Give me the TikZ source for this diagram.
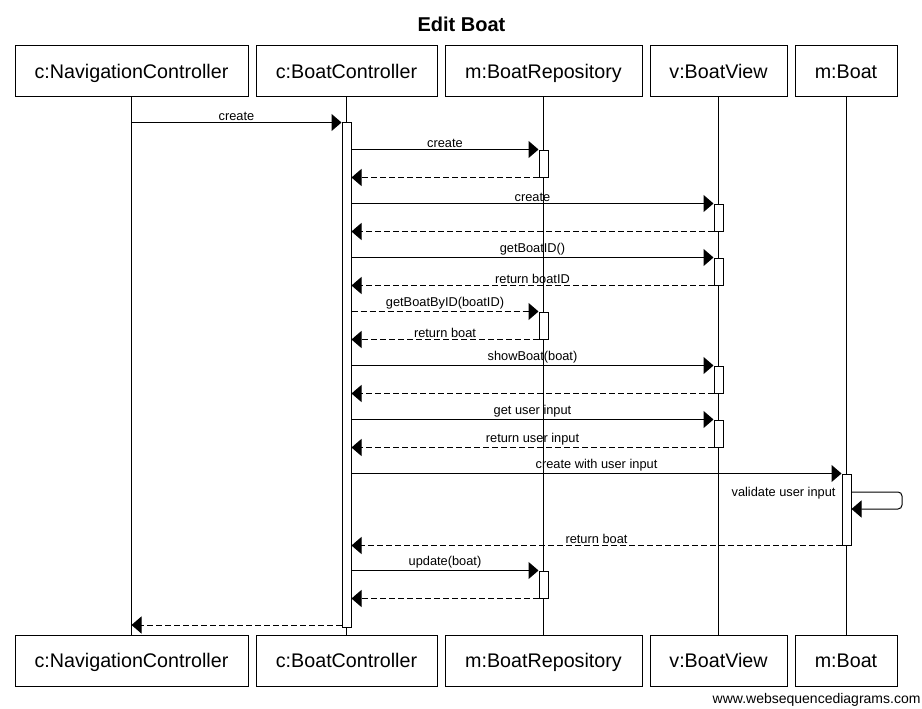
\documentclass[tikz,border=0pt]{standalone}
\usepackage{fontspec}
\setmainfont{Liberation Sans}
\usetikzlibrary{arrows.meta}
\begin{document}
\begin{tikzpicture}[x=1pt,y=-1pt,
  every path/.style={line width=1pt},
  pbox/.style={draw, rectangle, inner sep=0pt, minimum height=51pt,
    text height=13pt, text depth=0pt,
    font=\fontsize{19.7}{22}\selectfont},
  act/.style={draw, fill=white, rectangle, inner sep=0pt, minimum width=9pt},
  msg/.style={-{Triangle[length=10pt,width=17pt]}},
  ret/.style={msg, dash pattern=on 6pt off 3pt},
  lbl/.style={midway, above, inner sep=1.5pt, font=\fontsize{12.8}{14}\selectfont},
  lifeline/.style={draw, line width=1pt}]
\useasboundingbox (0,0) rectangle (922,709);
% title
\node[font=\bfseries\fontsize{20}{24}\selectfont] (title) at (461.5,24) {Edit Boat};
% participants top
\node[pbox, minimum width=233pt] (ncT) at (131.5,71.5) {c:NavigationController};
\node[pbox, minimum width=181pt] (bcT) at (346.5,71.5) {c:BoatController};
\node[pbox, minimum width=197pt] (rpT) at (543.5,71.5) {m:BoatRepository};
\node[pbox, minimum width=137pt] (vwT) at (718.5,71.5) {v:BoatView};
\node[pbox, minimum width=102pt] (btT) at (846,71.5) {m:Boat};
% participants bottom
\node[pbox, minimum width=233pt] (ncB) at (131.5,661) {c:NavigationController};
\node[pbox, minimum width=181pt] (bcB) at (346.5,661) {c:BoatController};
\node[pbox, minimum width=197pt] (rpB) at (543.5,661) {m:BoatRepository};
\node[pbox, minimum width=137pt] (vwB) at (718.5,661) {v:BoatView};
\node[pbox, minimum width=102pt] (btB) at (846,661) {m:Boat};
% lifelines
\draw[lifeline] (ncT.south) -- (ncB.north);
\draw[lifeline] (bcT.south) -- (bcB.north);
\draw[lifeline] (rpT.south) -- (rpB.north);
\draw[lifeline] (vwT.south) -- (vwB.north);
\draw[lifeline] (btT.south) -- (btB.north);
% activations
\node[act, minimum height=504pt] (bcA) at (346.5,375) {};
\node[act, minimum height=27pt] (r1) at (543.5,163.5) {};
\node[act, minimum height=27pt] (v1) at (718.5,217.5) {};
\node[act, minimum height=27pt] (v2) at (718.5,271.5) {};
\node[act, minimum height=27pt] (r2) at (543.5,325.5) {};
\node[act, minimum height=27pt] (v3) at (718.5,379.5) {};
\node[act, minimum height=27pt] (v4) at (718.5,433.5) {};
\node[act, minimum height=71pt] (b1) at (846.5,509.5) {};
\node[act, minimum height=27pt] (r3) at (543.5,584.5) {};
% messages
\draw[msg] (ncT.south |- bcA.north) -- (bcA.north west) node[lbl] {create};
\draw[msg] (bcA.east |- r1.north) -- (r1.north west) node[lbl] {create};
\draw[ret] (r1.south west) -- (bcA.east |- r1.south);
\draw[msg] (bcA.east |- v1.north) -- (v1.north west) node[lbl] {create};
\draw[ret] (v1.south west) -- (bcA.east |- v1.south);
\draw[msg] (bcA.east |- v2.north) -- (v2.north west) node[lbl] {getBoatID()};
\draw[ret] (v2.south west) -- (bcA.east |- v2.south) node[lbl] {return boatID};
\draw[ret] (bcA.east |- r2.north) -- (r2.north west) node[lbl] {getBoatByID(boatID)};
\draw[ret] (r2.south west) -- (bcA.east |- r2.south) node[lbl] {return boat};
\draw[msg] (bcA.east |- v3.north) -- (v3.north west) node[lbl] {showBoat(boat)};
\draw[ret] (v3.south west) -- (bcA.east |- v3.south);
\draw[msg] (bcA.east |- v4.north) -- (v4.north west) node[lbl] {get user input};
\draw[ret] (v4.south west) -- (bcA.east |- v4.south) node[lbl] {return user input};
\draw[msg] (bcA.east |- b1.north) -- (b1.north west) node[lbl] {create with user input};
% self call
\coordinate (s1) at (902,492);
\coordinate (s2) at (902,509);
\draw[msg, rounded corners=4pt] (b1.east |- s1) -- (s1) -- (s2) -- (b1.east |- s2);
\node[anchor=east, inner sep=0pt, font=\fontsize{12.8}{14}\selectfont] (vlbl) at (836,493) {validate user input};
\draw[ret] (b1.south west) -- (bcA.east |- b1.south) node[lbl] {return boat};
\draw[msg] (bcA.east |- r3.north) -- (r3.north west) node[lbl] {update(boat)};
\draw[ret] (r3.south west) -- (bcA.east |- r3.south);
\coordinate (fin) at (346.5,625);
\draw[ret] (bcA.west |- fin) -- (ncT.south |- fin);
% footer
\node[anchor=east, inner sep=0pt, font=\fontsize{14}{16}\selectfont] (foot) at (921,700) {www.websequencediagrams.com};
\end{tikzpicture}
\end{document}
